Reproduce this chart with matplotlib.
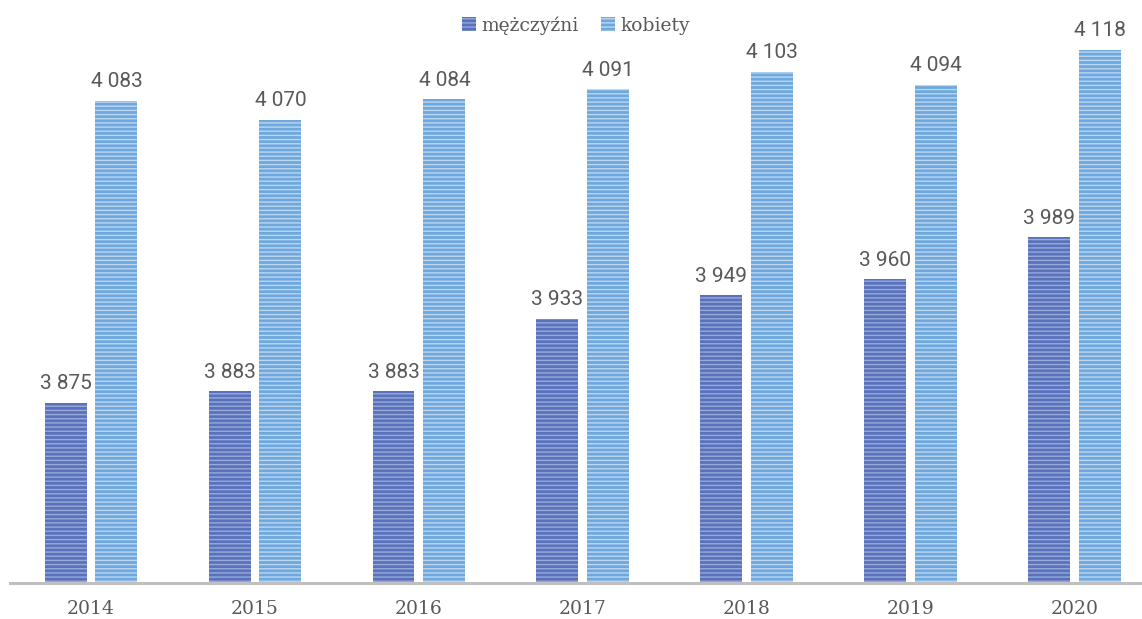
import matplotlib
matplotlib.use("Agg")
import matplotlib.pyplot as plt
import numpy as np

years = ["2014", "2015", "2016", "2017", "2018", "2019", "2020"]
men = [3875, 3883, 3883, 3933, 3949, 3960, 3989]
women = [4083, 4070, 4084, 4091, 4103, 4094, 4118]
series_names = ["mężczyźni", "kobiety"]

def fmt(v):
    return f"{v:,}".replace(",", " ")

plt.rcParams['hatch.linewidth'] = 1.0
fig = plt.figure(figsize=(11.42, 6.19), dpi=100)
ax = fig.add_axes([10/1142, 1 - 583/619, 1 - 10/1142, 563/619])

x = np.arange(len(years))
w = 0.256
off = 0.155
b1 = ax.bar(x - off, men, w, color="#5A72BC", edgecolor="#98A9DA", linewidth=0, hatch="----", label=series_names[0])
b2 = ax.bar(x + off, women, w, color="#6EA8DE", edgecolor="#BCD7F1", linewidth=0, hatch="----", label=series_names[1])

for bars, vals in ((b1, men), (b2, women)):
    for r, v in zip(bars, vals):
        ax.annotate(fmt(v), (r.get_x() + r.get_width()/2, v), xytext=(0, 7), textcoords="offset points",
                    ha="center", va="bottom", fontsize=15, color="#595959", family="Roboto")

ax.set_xlim(-0.494, 6.41)
ax.set_ylim(3751, 4138.7)
ax.set_xticks(x)
ax.set_xticklabels(years, family="DejaVu Serif", fontsize=13.5, color="#595959")
ax.tick_params(axis="x", length=0, pad=12)
ax.set_yticks([])
for s in ("top", "right", "left"):
    ax.spines[s].set_visible(False)
ax.spines["bottom"].set_color("#BFBFBF")
ax.spines["bottom"].set_linewidth(2.2)

leg = ax.legend(loc="upper center", bbox_to_anchor=(0.5, 1.037), ncol=2, frameon=False,
                prop={"family": "DejaVu Serif", "size": 13.5}, handlelength=0.75, handleheight=0.75,
                columnspacing=1.2, handletextpad=0.3)
for t in leg.get_texts():
    t.set_color("#595959")

fig.savefig("out.png", dpi=100)
